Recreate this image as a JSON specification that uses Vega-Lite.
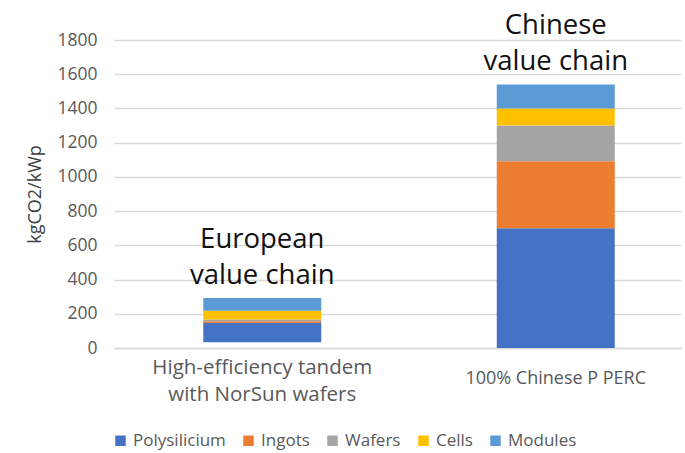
{
  "$schema": "https://vega.github.io/schema/vega-lite/v6.json",
  "autosize": {"type": "none"},
  "padding": {"left": 114, "top": 40, "right": 4, "bottom": 105},
  "width": 567,
  "height": 308,
  "background": "white",
  "config": {
    "font": "Open Sans",
    "view": {"stroke": null}
  },
  "datasets": {
    "bars": [
      {"chain": "High-efficiency tandem with NorSun wafers", "stage": "Polysilicium", "start": 33, "end": 146},
      {"chain": "High-efficiency tandem with NorSun wafers", "stage": "Ingots", "start": 146, "end": 156},
      {"chain": "High-efficiency tandem with NorSun wafers", "stage": "Wafers", "start": 156, "end": 166},
      {"chain": "High-efficiency tandem with NorSun wafers", "stage": "Cells", "start": 166, "end": 218},
      {"chain": "High-efficiency tandem with NorSun wafers", "stage": "Modules", "start": 218, "end": 292},
      {"chain": "100% Chinese P PERC", "stage": "Polysilicium", "start": 0, "end": 700},
      {"chain": "100% Chinese P PERC", "stage": "Ingots", "start": 700, "end": 1092},
      {"chain": "100% Chinese P PERC", "stage": "Wafers", "start": 1092, "end": 1300},
      {"chain": "100% Chinese P PERC", "stage": "Cells", "start": 1300, "end": 1400},
      {"chain": "100% Chinese P PERC", "stage": "Modules", "start": 1400, "end": 1540}
    ],
    "notes": [
      {"chain": "High-efficiency tandem with NorSun wafers", "label": "European\nvalue chain", "top": 292},
      {"chain": "100% Chinese P PERC", "label": "Chinese\nvalue chain", "top": 1540}
    ]
  },
  "layer": [
    {
      "data": {"name": "bars"},
      "mark": {"type": "bar"},
      "encoding": {
        "x": {
          "field": "chain",
          "type": "nominal",
          "sort": null,
          "scale": {"paddingInner": 0.598, "paddingOuter": 0.265, "align": 0.574},
          "axis": {
            "title": null,
            "labelAngle": 0,
            "labelExpr": "datum.value == 'High-efficiency tandem with NorSun wafers' ? ['High-efficiency tandem', 'with NorSun wafers'] : datum.label",
            "labelFontSize": {"condition": {"test": "datum.value == '100% Chinese P PERC'", "value": 18}, "value": 20.5},
            "labelPadding": {"condition": {"test": "datum.value == '100% Chinese P PERC'", "value": 30}, "value": 19},
            "labelColor": "#595959",
            "labelBaseline": "middle",
            "labelLineHeight": 27,
            "labelLimit": 400,
            "ticks": false,
            "tickSize": 0,
            "domain": true,
            "domainColor": "#d9d9d9",
            "domainWidth": 1.3,
            "grid": false
          }
        },
        "y": {
          "field": "start",
          "type": "quantitative",
          "scale": {"domain": [0, 1800], "nice": false},
          "axis": {
            "title": "kgCO2/kWp",
            "titleFontSize": 18,
            "titleFontWeight": "normal",
            "titleColor": "#404040",
            "titlePadding": 12,
            "values": [0, 200, 400, 600, 800, 1000, 1200, 1400, 1600, 1800],
            "tickCount": 10,
            "format": "d",
            "labelOverlap": false,
            "labelFontSize": 17.5,
            "labelColor": "#595959",
            "labelPadding": 17,
            "ticks": false,
            "tickSize": 0,
            "domain": false,
            "gridColor": "#d9d9d9",
            "gridWidth": 1.3
          }
        },
        "y2": {"field": "end"},
        "color": {
          "field": "stage",
          "type": "nominal",
          "scale": {
            "domain": ["Polysilicium", "Ingots", "Wafers", "Cells", "Modules"],
            "range": ["#4472C4", "#ED7D31", "#A5A5A5", "#FFC000", "#5B9BD5"]
          },
          "legend": {
            "title": null,
            "orient": "none",
            "direction": "horizontal",
            "legendX": -2,
            "legendY": 392,
            "symbolType": "square",
            "symbolSize": 110,
            "symbolStrokeWidth": 0,
            "labelFontSize": 17,
            "labelColor": "#595959",
            "labelOffset": 4,
            "columnPadding": 14
          }
        }
      }
    },
    {
      "data": {"name": "notes"},
      "mark": {"type": "text", "baseline": "bottom", "align": "center", "fontSize": 27.5, "lineBreak": "\n", "lineHeight": 36, "dy": -44, "color": "#111111"},
      "encoding": {
        "x": {
          "field": "chain",
          "type": "nominal",
          "sort": null,
          "axis": {
            "title": null,
            "labelAngle": 0,
            "labelExpr": "datum.value == 'High-efficiency tandem with NorSun wafers' ? ['High-efficiency tandem', 'with NorSun wafers'] : datum.label",
            "labelFontSize": {"condition": {"test": "datum.value == '100% Chinese P PERC'", "value": 18}, "value": 20.5},
            "labelPadding": {"condition": {"test": "datum.value == '100% Chinese P PERC'", "value": 30}, "value": 19},
            "labelColor": "#595959",
            "labelBaseline": "middle",
            "labelLineHeight": 27,
            "labelLimit": 400,
            "ticks": false,
            "tickSize": 0,
            "domain": true,
            "domainColor": "#d9d9d9",
            "domainWidth": 1.3,
            "grid": false
          }
        },
        "y": {
          "field": "top",
          "type": "quantitative",
          "axis": {
            "title": "kgCO2/kWp",
            "titleFontSize": 18,
            "titleFontWeight": "normal",
            "titleColor": "#404040",
            "titlePadding": 12,
            "values": [0, 200, 400, 600, 800, 1000, 1200, 1400, 1600, 1800],
            "tickCount": 10,
            "format": "d",
            "labelOverlap": false,
            "labelFontSize": 17.5,
            "labelColor": "#595959",
            "labelPadding": 17,
            "ticks": false,
            "tickSize": 0,
            "domain": false,
            "gridColor": "#d9d9d9",
            "gridWidth": 1.3
          }
        },
        "text": {"field": "label"}
      }
    }
  ]
}
